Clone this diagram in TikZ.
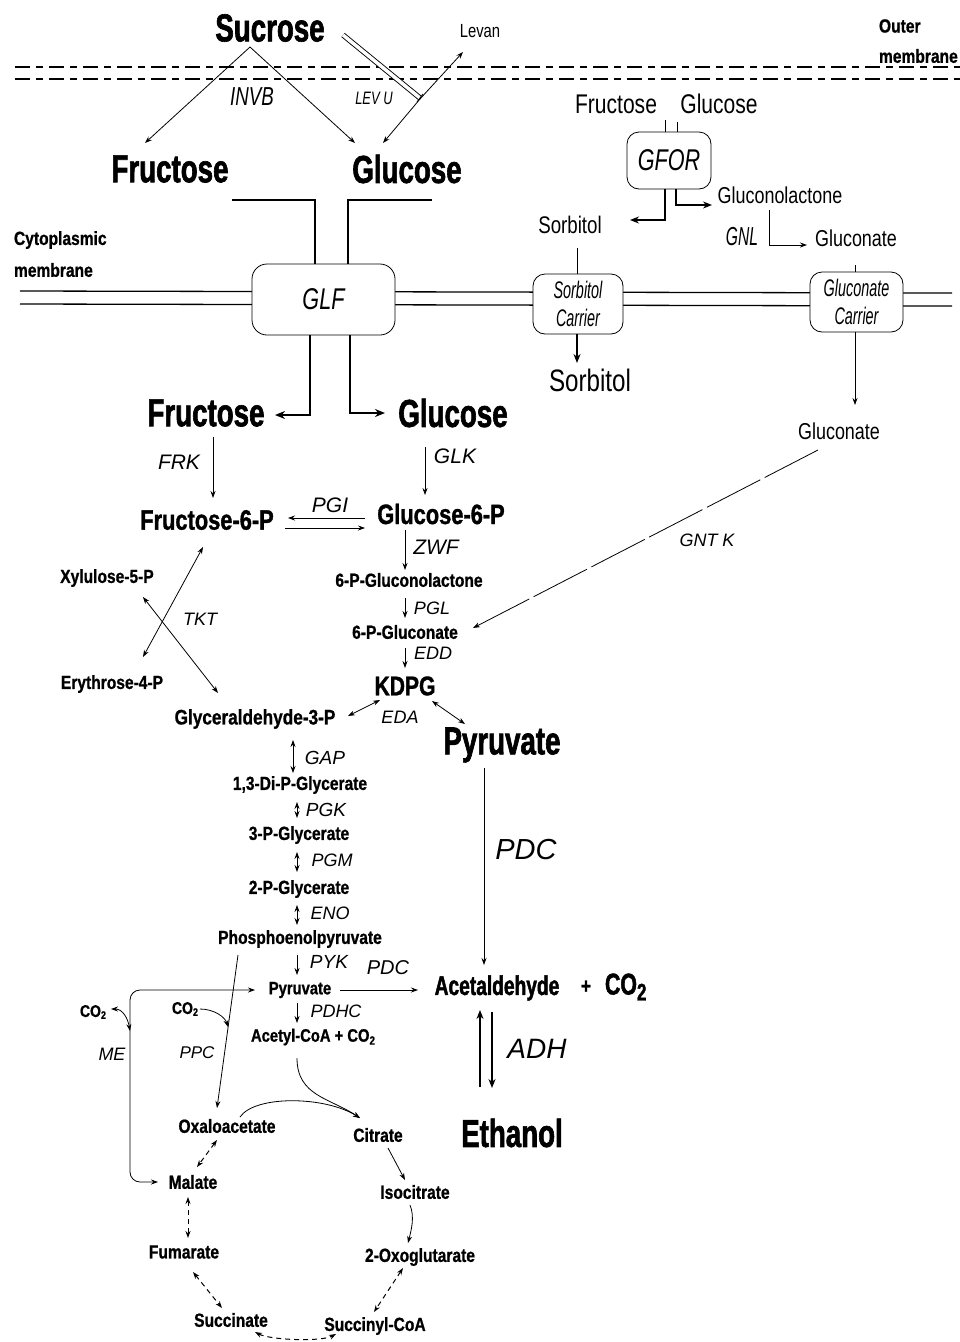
\documentclass[tikz,border=0pt]{standalone}
\usepackage{fontspec}
\setmainfont{Liberation Sans}
\newfontfamily\fBa[FakeStretch=0.71,FakeBold=1.6]{Liberation Sans}
\newfontfamily\fBb[FakeStretch=0.78,FakeBold=1.2]{Liberation Sans}
\newfontfamily\fBc[FakeStretch=0.82,FakeBold=0.9]{Liberation Sans}
\newfontfamily\fR[FakeStretch=0.78]{Liberation Sans}
\newfontfamily\fI{Liberation Sans}
\newfontfamily\fIc[FakeStretch=0.72]{Liberation Sans}
\newfontfamily\fIcc[FakeStretch=0.6]{Liberation Sans}
\usetikzlibrary{arrows.meta,calc}
\begin{document}
\begin{tikzpicture}[x=1pt,y=-1pt,
  every node/.style={inner sep=1pt,outer sep=0pt},
  bigt/.style={font=\fBa\bfseries\fontsize{39}{41}\selectfont},
  midt/.style={font=\fBb\bfseries\fontsize{28}{30}\selectfont},
  smt/.style={font=\fBc\bfseries\fontsize{#1}{#1}\selectfont},
  regt/.style={font=\fR\fontsize{#1}{#1}\selectfont},
  enz/.style={font=\fI\itshape\fontsize{#1}{#1}\selectfont},
  enzc/.style={font=\fIc\itshape\fontsize{#1}{#1}\selectfont},
  enzcc/.style={font=\fIcc\itshape\fontsize{#1}{28}\selectfont},
  cbox/.style={draw,fill=white,line width=0.8pt,rounded corners=14pt},
  ln/.style={line width=0.8pt},
  arr/.style={line width=0.8pt,-{Stealth[length=7pt,width=5pt]}},
  arrb/.style={line width=0.8pt,{Stealth[length=7pt,width=5pt]}-{Stealth[length=7pt,width=5pt]}},
  marr/.style={line width=1.3pt,-{Stealth[length=9pt,width=7pt]}},
  thk/.style={line width=1.8pt},
  thkarr/.style={line width=1.8pt,-{Stealth[length=10pt,width=8pt]}},
  dsh/.style={dash pattern=on 5pt off 4pt,line width=1pt},
  mem/.style={line width=1.3pt},
  omem/.style={line width=1.6pt,dash pattern=on 15pt off 6pt on 7pt off 6pt}
]
\useasboundingbox (0,0) rectangle (960,1342);

% outer membrane
\draw[omem] (15,67) -- (960,67);
\draw[omem] (15,79) -- (960,79);
% cytoplasmic membrane
\draw[mem] (20,291) -- (952,293);
\draw[mem] (20,304) -- (952,306);

% ---------- top ----------
\node[bigt] (sucr) at (270,28) {Sucrose};
\node[regt=19] (levan) at (480,31) {Levan};
\node[smt=19,anchor=west] (outer1) at (878,26) {Outer};
\node[smt=19,anchor=west] (outer2) at (878,56) {membrane};
\node[bigt] (fruU) at (170,169) {Fructose};
\node[bigt] (gluU) at (407,169) {Glucose};
\node[enzc=26] (invb) at (252,97) {INVB};
\node[enzc=18] (levu) at (374,98) {LEV U};
\node[smt=19,anchor=west] (cyto1) at (13,240) {Cytoplasmic};
\node[smt=19,anchor=west] (cyto2) at (13,270) {membrane};

\draw[arr] ($(sucr)+(-20,19)$) -- ($(fruU)+(-25,-26)$);
\draw[arr] ($(sucr)+(-20,19)$) -- ($(gluU)+(-52,-26)$);
% LEV U channel
\draw[line width=0.9pt,double,double distance=3.5pt] (343,35) -- (420,98);
\draw[line width=0.9pt] (423,94) -- (417,102);
\coordinate (chan) at (420,99);
\draw[arr] (chan) -- ($(levan)+(-17,21)$);
\draw[arr] (chan) -- ($(gluU)+(-24,-26)$);

% GLF
\node[cbox,minimum width=143pt,minimum height=71pt,rounded corners=15pt,enzc=30] (glf) at (323.5,299.5) {GLF};
\draw[thk] ($(fruU)+(62,31)$) -| ([xshift=-8.5pt]glf.north);
\draw[thk] ([xshift=24.5pt]glf.north) |- ($(gluU)+(25,31)$);
\node[bigt] (fruL) at (206,413) {Fructose};
\node[bigt] (gluL) at (453,413) {Glucose};
\draw[thkarr] ([xshift=-13.5pt]glf.south) |- ($(fruL)+(69,2)$);
\draw[thkarr] ([xshift=26.5pt]glf.south) |- ($(gluL)+(-68,0)$);

% GFOR
\node[regt=27] (fruR) at (616,104) {Fructose};
\node[regt=27] (gluR) at (719,104) {Glucose};
\node[cbox,minimum width=84pt,minimum height=57pt,rounded corners=12pt,enzc=30] (gfor) at (669,160.5) {GFOR};
\draw[ln] ($(fruR)+(49,16)$) -- ([xshift=-4pt]gfor.north);
\draw[ln] ($(gluR)+(-42,18)$) -- ([xshift=8pt]gfor.north);
\node[regt=24] (sorbU) at (570,225) {Sorbitol};
\node[regt=23] (glcnl) at (780,195) {Gluconolactone};
\draw[marr] ([xshift=-4pt]gfor.south) |- ($(sorbU)+(60,-5)$);
\draw[marr] ([xshift=7pt]gfor.south) |- ($(glcnl)+(-68,10)$);
\node[enzcc=26] (gnl) at (742,237) {GNL};
\node[regt=23] (glcnU) at (856,238) {Gluconate};
\draw[arr] ($(glcnl)+(-11,15)$) |- ($(glcnU)+(-49,7)$);

% carriers
\node[cbox,minimum width=90pt,minimum height=60pt,rounded corners=12pt,align=center,enzcc=24] (sorbC) at (578,304) {Sorbitol\\Carrier};
\node[cbox,minimum width=93pt,minimum height=60pt,rounded corners=12pt,align=center,enzcc=24] (glcC) at (856.5,302) {Gluconate\\Carrier};
\node[regt=31] (sorbL) at (590,380) {Sorbitol};
\node[regt=23] (glcnL) at (839,431) {Gluconate};
\draw[ln] ($(sorbU)+(7,23)$) -- ([xshift=-1pt]sorbC.north);
\draw[marr] ([xshift=-1pt]sorbC.south) -- ($(sorbL)+(-13,-17)$);
\draw[ln] ($(glcnU)+(-1,27)$) -- ([xshift=-1.5pt]glcC.north);
\draw[arr] ([xshift=-1.5pt]glcC.south) -- ($(glcnL)+(16,-26)$);

% ---------- middle ----------
\node[enz=21] (frk) at (179,462) {FRK};
\node[enz=21] (glk) at (455,456) {GLK};
\node[midt] (f6p) at (207,520) {Fructose-6-P};
\node[midt] (g6p) at (441,514) {Glucose-6-P};
\node[enz=21] (pgi) at (330,505) {PGI};
\node[enz=21] (zwf) at (436,547) {ZWF};
\node[smt=19] (pglac) at (409,580) {6-P-Gluconolactone};
\node[enz=18] (pgl) at (432,608) {PGL};
\node[smt=19] (pglc) at (405,632) {6-P-Gluconate};
\node[enz=18] (edd) at (433,653) {EDD};
\node[font=\fBb\bfseries\fontsize{27}{27}\selectfont] (kdpg) at (405,686) {KDPG};
\node[enz=18] (eda) at (400,717) {EDA};
\node[smt=21] (gap3) at (255,719) {Glyceraldehyde-3-P};
\node[bigt] (pyrB) at (502,745) {Pyruvate};
\node[smt=19] (xyl) at (107,578) {Xylulose-5-P};
\node[smt=19] (ery) at (112,684) {Erythrose-4-P};
\node[enz=18] (tkt) at (200,619) {TKT};
\node[enz=18] (gntk) at (707,540) {GNT K};

\draw[arr] ($(fruL)+(7,24)$) -- ($(f6p)+(6,-22)$);
\draw[arr] ($(gluL)+(-28,34)$) -- ($(g6p)+(-16,-19)$);
\draw[arr] ($(g6p)+(-76,4)$) -- ($(f6p)+(81,-2)$);
\draw[arr] ($(f6p)+(78,8)$) -- ($(g6p)+(-76,14)$);
\draw[arr] ($(g6p)+(-36,16)$) -- ($(pglac)+(-4,-10)$);
\draw[arr] ($(pglac)+(-4,18)$) -- ($(pglc)+(0,-14)$);
\draw[arr] ($(pglc)+(0,16)$) -- ($(kdpg)+(0,-18)$);
\draw[arrb] ($(kdpg)+(-25,14)$) -- ($(gap3)+(93,-3)$);
\draw[arrb] ($(kdpg)+(27,15)$) -- ($(pyrB)+(-37,-21)$);
\draw[arrb] ($(f6p)+(-4,27)$) -- ($(ery)+(31,-27)$);
\draw[arrb] ($(xyl)+(36,19)$) -- ($(gap3)+(-37,-26)$);
\draw[arr,dash pattern=on 60pt off 5pt] ($(glcnL)+(-21,19)$) -- ($(pglc)+(68,-4)$);

% ---------- glycolysis ----------
\node[enz=19] (gapl) at (325,758) {GAP};
\node[smt=19] (dpg) at (300,785) {1,3-Di-P-Glycerate};
\node[enz=19] (pgk) at (326,810) {PGK};
\node[smt=19] (pg3) at (299,835) {3-P-Glycerate};
\node[enz=18] (pgm) at (332,860) {PGM};
\node[smt=19] (pg2) at (299,889) {2-P-Glycerate};
\node[enz=18] (eno) at (330,913) {ENO};
\node[smt=19] (pep) at (300,939) {Phosphoenolpyruvate};
\node[enz=19] (pyk) at (329,962) {PYK};
\node[enz=20] (pdcS) at (388,968) {PDC};
\node[smt=18] (pyrS) at (300,990) {Pyruvate};
\node[font=\fBa\bfseries\fontsize{27}{27}\selectfont] (acet) at (497,988) {Acetaldehyde};
\node[font=\fBb\bfseries\fontsize{22}{22}\selectfont] (plus) at (586,987) {+};
\node[font=\fBa\bfseries\fontsize{30}{30}\selectfont,anchor=west] (co2b) at (604,987) {CO\raisebox{-6pt}{\fontsize{24}{24}\selectfont 2}};
\node[enz=29] (pdcB) at (526,850) {PDC};
\node[enz=28] (adh) at (537,1049) {ADH};
\node[bigt] (etoh) at (512,1133) {Ethanol};
\node[enz=18] (pdhc) at (336,1011) {PDHC};
\node[smt=18] (acoa) at (313,1037) {Acetyl-CoA + CO\raisebox{-3pt}{\fontsize{12}{12}\selectfont 2}};

\draw[arrb] ($(gap3)+(38,21)$) -- ($(dpg)+(-7,-12)$);
\draw[arrb] ($(dpg)+(-3,17)$) -- ($(pg3)+(-2,-17)$);
\draw[arrb] ($(pg3)+(-2,17)$) -- ($(pg2)+(-2,-17)$);
\draw[arrb] ($(pg2)+(-2,16)$) -- ($(pep)+(-3,-14)$);
\draw[arr] ($(pep)+(-3,16)$) -- ($(pyrS)+(-3,-15)$);
\draw[arr] ($(pyrS)+(40,0)$) -- ($(acet)+(-79,2)$);
\draw[arr] ($(pyrB)+(-18,23)$) -- ($(acet)+(-13,-23)$);
\draw[marr] ($(etoh)+(-32,-46)$) -- ($(acet)+(-17,22)$);
\draw[marr] ($(acet)+(-5,24)$) -- ($(etoh)+(-20,-45)$);
\draw[arr] ($(pyrS)+(-3,13)$) -- ($(acoa)+(-16,-14)$);

% ---------- TCA ----------
\node[smt=19] (oaa) at (227,1126) {Oxaloacetate};
\node[smt=19] (cit) at (378,1135) {Citrate};
\node[smt=19] (mal) at (193,1182) {Malate};
\node[smt=19] (icit) at (415,1192) {Isocitrate};
\node[smt=19] (fum) at (184,1252) {Fumarate};
\node[smt=19] (oxg) at (420,1257) {2-Oxoglutarate};
\node[smt=19] (succ) at (231,1320) {Succinate};
\node[smt=19] (scoa) at (375,1326) {Succinyl-CoA};
\node[smt=17] (co2me) at (93,1012) {CO\raisebox{-2pt}{\fontsize{11}{11}\selectfont 2}};
\node[enz=18] (me) at (112,1054) {ME};
\node[smt=17] (co2ppc) at (185,1009) {CO\raisebox{-2pt}{\fontsize{11}{11}\selectfont 2}};
\node[enz=17] (ppc) at (197,1053) {PPC};

\draw[arr] ($(acoa)+(-16,21)$) .. controls +(0,38) and +(-30,-20) .. ($(cit)+(-18,-17)$);
\draw[arr] ($(oaa)+(13,-9)$) .. controls +(15,-22) and +(-35,-22) .. ($(cit)+(-18,-17)$);
\draw[arrb,dsh] ($(oaa)+(-10,14)$) -- ($(mal)+(4,-15)$);
\draw[arrb,dsh] ($(mal)+(-5,15)$) -- ($(fum)+(4,-14)$);
\draw[arrb,dsh] ($(fum)+(9,20)$) -- ($(succ)+(-9,-12)$);
\draw[arrb,dsh] ($(succ)+(24,12)$) .. controls +(15,8) and +(-15,8) .. ($(scoa)+(-39,8)$);
\draw[arrb,dsh] ($(oxg)+(-17,11)$) -- ($(scoa)+(-1,-14)$);
\draw[arr] ($(cit)+(10,13)$) -- ($(icit)+(-10,-12)$);
\draw[arr] ($(icit)+(-5,13)$) .. controls +(5,12) and +(3,-12) .. ($(oxg)+(-12,-14)$);

% ME and PPC
\coordinate (meC) at (130,1090);
\draw[arrb,rounded corners=10pt] ($(pyrS)+(-45,0)$) -| (meC) |- ($(mal)+(-35,0)$);
\coordinate (meJ) at (130,1031);
\draw[arrb] ($(co2me)+(18,-3)$) .. controls +(12,0) and +(-2,-12) .. (meJ);
\draw[arr] ($(pep)+(-62,16)$) -- ($(oaa)+(-10,-18)$);
\coordinate (ppcJ) at (228,1027);
\draw[arr] ($(co2ppc)+(15,0)$) .. controls +(14,0) and +(-3,-10) .. (ppcJ);
\end{tikzpicture}
\end{document}
